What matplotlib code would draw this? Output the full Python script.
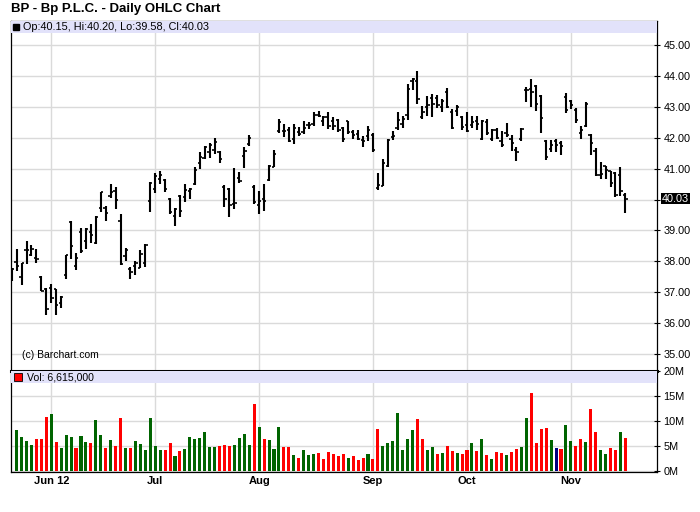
import numpy as np
import matplotlib
matplotlib.use("Agg")
import matplotlib.pyplot as plt
import matplotlib.transforms as mtransforms
from matplotlib.patches import Rectangle

plt.rcParams["font.family"] = ["Liberation Sans", "DejaVu Sans"]

# BP daily bars, 21 May 2012 .. 16 Nov 2012 (one entry per trading day)
opens = [37.58, 37.98, 37.50, 38.38, 38.22, 38.12, 37.50, 37.12, 37.14, 37.10,
         36.66, 37.55, 39.28, 37.85, 38.95, 38.66, 38.95, 38.59, 39.72, 39.72,
         40.10, 40.27, 39.30, 38.17, 37.76, 37.85, 37.79, 37.95, 39.96, 40.35,
         40.66, 40.63, 40.01, 39.47, 40.12, 40.09, 40.28, 40.50, 41.19, 41.36,
         41.54, 41.62, 41.54, 40.39, 40.33, 39.85, 40.71, 41.41, 41.80, 40.40,
         39.82, 40.03, 40.63, 41.06, 42.22, 42.22, 42.25, 41.95, 42.18, 42.18,
         42.40, 42.43, 42.75, 42.55, 42.67, 42.53, 42.58, 42.31, 42.53, 42.20,
         42.11, 41.94, 42.06, 42.10, 40.36, 40.45, 41.10, 42.02, 42.31, 42.44,
         42.74, 43.85, 43.85, 42.67, 43.01, 43.30, 43.28, 42.99, 43.47, 42.85,
         42.88, 42.67, 42.42, 42.40, 42.53, 41.97, 42.51, 41.96, 42.24, 41.90,
         42.17, 41.96, 41.61, 41.96, 43.53, 43.57, 43.68, 43.36, 41.90, 41.65,
         41.88, 41.83, 43.31, 43.20, 42.90, 42.17, 42.37, 42.10, 41.56, 40.81,
         41.08, 40.91, 40.86, 40.81, 40.15]
highs = [37.79, 38.41, 37.95, 38.67, 38.54, 38.41, 37.53, 37.14, 37.25, 37.12,
         36.88, 38.22, 39.30, 38.28, 39.09, 39.08, 39.22, 39.46, 40.26, 39.79,
         40.51, 40.40, 39.54, 38.43, 37.81, 38.00, 38.38, 38.56, 40.58, 40.86,
         40.92, 40.66, 40.06, 39.72, 40.14, 40.50, 40.36, 41.06, 41.54, 41.73,
         41.84, 42.00, 41.57, 40.46, 40.36, 41.03, 40.89, 41.70, 42.08, 40.46,
         40.28, 40.50, 41.11, 41.62, 42.61, 42.43, 42.35, 42.46, 42.35, 42.54,
         42.51, 42.83, 42.88, 42.71, 42.82, 42.67, 42.60, 42.34, 42.55, 42.24,
         42.26, 42.06, 42.39, 42.15, 40.86, 41.32, 41.96, 42.23, 42.85, 42.71,
         43.74, 43.93, 44.16, 43.03, 43.36, 43.42, 43.39, 43.25, 43.60, 42.93,
         43.06, 42.71, 42.82, 42.69, 42.69, 42.58, 42.62, 42.28, 42.31, 42.23,
         42.47, 42.10, 41.70, 42.31, 43.63, 43.89, 43.70, 43.38, 41.92, 41.94,
         41.97, 41.88, 43.44, 43.23, 42.96, 42.39, 43.15, 42.12, 41.67, 41.22,
         41.10, 40.94, 40.88, 41.05, 40.20]
lows = [37.36, 37.68, 37.23, 37.90, 38.17, 37.94, 37.03, 36.26, 36.66, 36.26,
        36.50, 37.42, 38.07, 37.71, 38.26, 38.39, 38.60, 38.57, 39.59, 39.29,
        40.04, 39.68, 37.87, 38.00, 37.44, 37.55, 37.77, 37.82, 39.61, 40.22,
        40.49, 40.25, 39.53, 39.13, 39.42, 39.93, 40.01, 40.48, 41.00, 41.30,
        41.34, 41.48, 41.18, 39.76, 39.42, 39.71, 40.55, 41.03, 41.73, 39.84,
        39.52, 39.64, 40.60, 41.04, 42.14, 42.03, 41.86, 41.81, 42.05, 42.11,
        42.29, 42.38, 42.67, 42.39, 42.28, 42.24, 42.20, 41.86, 42.13, 41.97,
        41.94, 41.69, 41.88, 41.54, 40.30, 40.43, 41.04, 41.94, 42.26, 42.31,
        42.58, 43.53, 43.09, 42.60, 42.71, 42.67, 42.96, 42.82, 42.97, 42.28,
        42.69, 42.24, 42.18, 42.31, 42.26, 41.94, 42.10, 41.90, 41.96, 41.70,
        42.04, 41.56, 41.24, 41.91, 43.16, 43.01, 42.88, 42.15, 41.27, 41.53,
        41.53, 41.43, 42.80, 42.92, 42.47, 41.97, 42.34, 41.43, 40.77, 40.68,
        40.68, 40.41, 40.09, 40.11, 39.58]
closes = [37.74, 37.85, 37.93, 38.36, 38.39, 38.09, 37.05, 36.45, 36.80, 36.60,
          36.83, 38.20, 38.50, 38.11, 38.32, 39.05, 38.84, 39.43, 40.24, 39.57,
          40.24, 40.00, 37.92, 38.38, 37.66, 37.96, 38.23, 38.54, 40.55, 40.75,
          40.79, 40.35, 39.60, 39.70, 39.62, 40.31, 40.33, 40.95, 41.39, 41.70,
          41.76, 41.86, 41.30, 40.03, 39.82, 39.88, 40.61, 41.57, 41.98, 39.93,
          39.96, 39.95, 41.09, 41.48, 42.51, 42.22, 41.89, 42.30, 42.13, 42.32,
          42.42, 42.75, 42.70, 42.67, 42.39, 42.37, 42.24, 41.96, 42.20, 42.09,
          41.97, 41.88, 42.24, 41.61, 40.47, 41.18, 41.94, 42.06, 42.58, 42.62,
          43.57, 43.89, 43.25, 42.85, 43.06, 43.10, 43.05, 43.20, 43.00, 42.33,
          43.01, 42.34, 42.23, 42.52, 42.45, 42.55, 42.15, 42.26, 41.99, 41.77,
          42.10, 41.83, 41.54, 42.29, 43.55, 43.49, 43.10, 42.63, 41.38, 41.77,
          41.77, 41.74, 42.90, 43.06, 42.56, 42.24, 43.10, 41.83, 40.81, 40.84,
          40.95, 40.54, 40.16, 40.27, 40.03]
# volume in millions of shares (first session not shown on the chart)
volumes = [np.nan, 8.24, 6.83, 6.03, 5.23, 6.43, 6.43, 10.85, 11.46, 5.83,
           4.62, 7.24, 6.83, 4.62, 7.04, 5.83, 5.63, 10.25, 7.24, 4.62,
           6.23, 5.03, 10.65, 4.62, 4.62, 6.03, 5.43, 4.22, 10.65, 5.03,
           4.22, 4.22, 5.63, 3.02, 4.02, 4.42, 6.83, 6.43, 6.63, 7.84,
           4.82, 4.82, 5.03, 5.23, 5.03, 5.23, 6.63, 7.44, 5.23, 13.47,
           8.84, 6.43, 6.23, 4.42, 8.84, 4.82, 4.82, 3.22, 2.61, 4.22,
           3.22, 3.42, 3.62, 2.41, 3.82, 3.42, 3.02, 3.42, 2.61, 3.02,
           2.21, 2.61, 3.42, 2.41, 8.44, 5.03, 5.63, 6.03, 11.66, 4.22,
           6.43, 8.24, 10.45, 6.43, 4.22, 4.82, 3.42, 3.62, 5.03, 4.02,
           3.62, 3.42, 4.22, 5.63, 4.02, 6.43, 3.22, 2.41, 3.82, 3.62,
           3.22, 3.82, 4.42, 4.82, 10.65, 15.68, 5.63, 8.44, 8.64, 6.23,
           4.62, 4.42, 9.25, 6.03, 5.03, 6.43, 5.83, 12.46, 7.84, 4.22,
           3.42, 4.62, 4.22, 7.84, 6.615]
month_labels = ["Jun 12", "Jul", "Aug", "Sep", "Oct", "Nov"]
month_starts = [8, 29, 50, 73, 92, 113]   # bar index of first session
price_ticks = [35, 36, 37, 38, 39, 40, 41, 42, 43, 44, 45]
vol_ticks = [0, 5, 10, 15, 20]
vol_tick_labels = ["0M", "5M", "10M", "15M", "20M"]

GREEN = "#006400"
RED = "#ff0000"
NAVY = "#000080"
BAND = "#e2e2fa"
GRID = "#dadada"

x = np.arange(len(closes))
chg = np.diff(np.array(closes), prepend=closes[0] - 0.01)
vol_colors = [GREEN if d > 1e-9 else (RED if d < -1e-9 else NAVY) for d in chg]

fig = plt.figure(figsize=(7.0, 5.12), dpi=100)
ax = fig.add_axes([0.0153, 0.2754, 0.9233, 0.6842])
axv = fig.add_axes([0.0153, 0.0791, 0.9233, 0.1963], sharex=ax)

xlim = (-0.2, 130.4)

# price panel
ax.vlines(x, lows, highs, color="black", linewidth=1.5, zorder=3)
ax.hlines(opens, x - 0.45, x, color="black", linewidth=1.2, zorder=3)
ax.hlines(closes, x, x + 0.45, color="black", linewidth=1.2, zorder=3)
ax.set_xlim(*xlim)
ax.set_ylim(34.45, 45.79)
ax.set_yticks(price_ticks)
ax.set_yticklabels(["" if t == 40 else f"{t:.2f}" for t in price_ticks])
ax.yaxis.tick_right()
ax.tick_params(axis="y", direction="inout", length=5, width=0.8, pad=2,
               labelsize=7.8, colors="black")
ax.tick_params(axis="x", length=0, labelbottom=False)
ax.set_xticks(month_starts)
ax.grid(True, color=GRID, linewidth=1.0)
ax.set_axisbelow(True)
for s in ax.spines.values():
    s.set_linewidth(0.9)
ax.spines["bottom"].set_linewidth(2.2)

ax.add_patch(Rectangle((0, 1 - 0.036), 1, 0.036, transform=ax.transAxes,
                       facecolor=BAND, edgecolor="none", zorder=2.6))
ax.plot([0.008], [1 - 0.018], marker="s", markersize=5, color="black",
        transform=ax.transAxes, zorder=4, clip_on=False)
ax.text(0.0185, 1 - 0.018,
        f"Op:{opens[-1]:.2f}, Hi:{highs[-1]:.2f}, Lo:{lows[-1]:.2f}, Cl:{closes[-1]:.2f}",
        transform=ax.transAxes, fontsize=7.8, va="center", ha="left", zorder=4)
ax.text(0.017, 0.047, "(c) Barchart.com", transform=ax.transAxes,
        fontsize=7.5, va="center", ha="left", zorder=4)

trans = mtransforms.blended_transform_factory(ax.transAxes, ax.transData)
ax.text(1.007, closes[-1], f"{closes[-1]:.2f}", transform=trans, color="white",
        fontsize=7.8, va="center", ha="left", zorder=5, clip_on=False,
        bbox=dict(boxstyle="square,pad=0.08", facecolor="black", edgecolor="none"))

# volume panel
axv.bar(x, volumes, width=0.62, color=vol_colors, zorder=3)
axv.set_ylim(-0.1, 20.1)
axv.set_yticks(vol_ticks)
axv.set_yticklabels(vol_tick_labels)
axv.yaxis.tick_right()
axv.tick_params(axis="y", direction="inout", length=5, width=0.8, pad=2,
                labelsize=7.8)
axv.set_xticks(month_starts)
axv.set_xticklabels(month_labels, fontweight="bold", fontsize=8)
axv.tick_params(axis="x", length=0, pad=3)
axv.grid(True, color=GRID, linewidth=1.0)
axv.set_axisbelow(True)
for s in axv.spines.values():
    s.set_linewidth(0.9)
axv.spines["top"].set_visible(False)

axv.add_patch(Rectangle((0, 1 - 0.115), 1, 0.115, transform=axv.transAxes,
                        facecolor=BAND, edgecolor="none", zorder=2.6))
axv.plot([0.011], [1 - 0.06], marker="s", markersize=5.5, markerfacecolor=RED,
         markeredgecolor="black", markeredgewidth=0.6,
         transform=axv.transAxes, zorder=4, clip_on=False)
axv.text(0.0248, 1 - 0.06, f"Vol: {int(round(volumes[-1] * 1e6)):,}",
         transform=axv.transAxes, fontsize=7.6, va="center", ha="left", zorder=4)

fig.text(0.016, 0.983, "BP - Bp P.L.C. - Daily OHLC Chart", fontsize=9.5,
         fontweight="bold", va="center", ha="left")

fig.savefig("out.png", dpi=100)
